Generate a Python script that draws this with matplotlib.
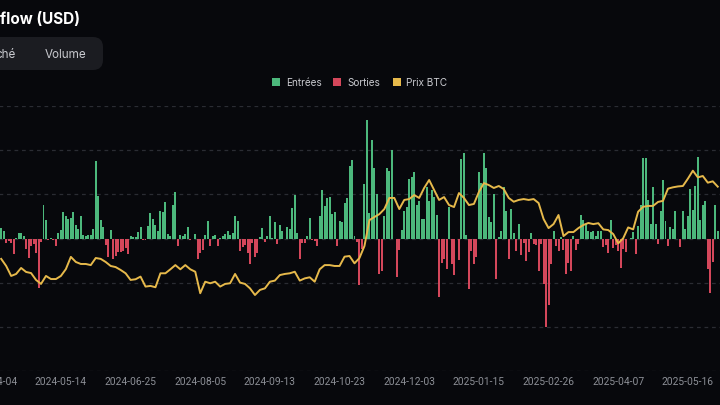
import numpy as np
import matplotlib.pyplot as plt
from matplotlib.patches import FancyBboxPatch, Rectangle
from matplotlib.transforms import IdentityTransform

# -------------------------------------------------------------------------
# data
# net flow per trading day (M USD), first bar = 2024-04-10
# -------------------------------------------------------------------------
flows = [
    24, 18, -10, -6, -11, -35, 1, 12, 12, 6, -24, -44, -18, -12, -33, -113,
    -8, 75, 43, -4, 2, -3, -18, 12, 20, 60, 50, 44, 47, 60, 30, 21, 50, 8, 5,
    9, 9, 21, 176, 97, 43, 26, -14, -41, 20, -47, -39, -31,
    -31, -28, -22, -36, 6, 3, 3, 14, 25, -3, -4, 28, 58, 44, 30, 17, 62, 60,
    84, 10, 6, 75, 106, -16, 9, 6, 10, 25, -4, 0, 10, -47, -32, -26, 9, 40,
    -18, 6, 8, -16, 2, 6, 11, 17, 9, 13, 50, 40,
    -28, -20, -15, -33, -58, -10, -42, -32, 4, 23, -8, 6, 52, 2, 37, -12, 30,
    18, 0, 27, 22, 70, 98, 12, -47, -11, -11, 5, 46, -4, -6, -16, 50, 110, 74,
    92, 94, 55, 60, -16, 40, 38, 80, 93, 164, 178, 5, -8, -105,
    -23, 124, 270, 57, 223, 160, 101, -80, -74, 50, 161, 154, 200, 0, -87,
    -26, 20, 63, 71, 135, 139, 150, 75, 86, 44, 44, 118, 86, 110, 95, 54,
    -134, -56, -46, -69, 72, -57, -84, 0, -48, 180, 195, 9, -114, -29, -57,
    -42, 150,
    125, 195, 160, 48, 37, 102, -92, 3, 18, 118, 63, -47, 67, 12, -29, 33, -38,
    -11, -51, -31, 13, -12, -14, -74, -12, -104, -202, -152, -57, 18, -16, -29,
    3, -27, -81, -56, -74, 5, -27, -12, 54, 41, 33, 18, 14, 18, 5, 18,
    17, -20, -14, -33, 43, -21, -14, -29, -66, -23, -31, 0, 2, 14, -35, 29, 75,
    182, 182, 87, 33, 118, 33, -12, 63, 133, 40, -18, 27, 22, 63, 0, -20, 63,
    22, 50, 112, 65, 120, 186, 41, 76, 86, -69, -124, -53, 75, 17,
]

# BTC price (k USD), every second trading day
btc_price = [
    70.4, 67.2, 62.7, 63.6, 66.3, 64.5, 64.0, 60.9, 59.1, 62.7, 61.3, 61.3,
    62.7, 65.8, 71.3, 69.0, 68.1, 68.1, 67.6, 70.8, 70.4, 69.0, 67.2, 66.7,
    65.4, 63.9, 60.9, 61.2, 62.4, 57.9, 58.2, 57.6, 63.9, 63.9, 65.7, 67.6,
    65.7, 67.6, 65.7, 64.6, 54.9, 60.1, 59.4, 60.1, 57.9, 59.1, 59.4, 63.6,
    59.7, 59.1, 57.1, 54.1, 56.4, 57.1, 60.1, 60.6, 63.1, 63.6, 63.9, 64.6,
    60.6, 61.6, 62.1, 60.1, 65.7, 67.6, 67.6, 67.2, 67.2, 71.4, 71.7, 68.4,
    70.8, 76.2, 87.9, 89.3, 90.6, 92.9, 97.9, 97.9, 92.9, 97.0, 97.4, 99.2,
    97.9, 102.4, 106.0, 101.5, 97.0, 98.3, 94.7, 93.8, 100.1, 97.9, 94.7, 95.2,
    100.6, 104.6, 103.7, 102.4, 103.3, 101.9, 97.9, 96.2, 97.0, 97.4, 97.0,
    97.4, 95.6, 88.4, 84.3, 86.1, 90.2, 80.7, 82.5, 82.5, 84.3, 85.7, 86.6,
    86.1,
    86.5, 83.7, 83.4, 81.6, 77.4, 79.7, 84.6, 83.7, 91.7, 93.9, 94.3, 94.3,
    96.1, 96.6, 102.1, 102.7, 103.1, 103.3, 106.6, 110.2, 107.2, 107.8, 104.8,
    105.4, 103.0,
]

tick_labels = ['2024-04-04', '2024-05-14', '2024-06-25', '2024-08-05',
               '2024-09-13', '2024-10-23', '2024-12-03', '2025-01-15',
               '2025-02-26', '2025-04-07', '2025-05-16']
first_tick = -4     # 2024-04-04 is four sessions before the first bar
tick_step = 28      # one label every 28 sessions

legend_labels = ['Entrées', 'Sorties', 'Prix BTC']

# -------------------------------------------------------------------------
# styling
# -------------------------------------------------------------------------
BG = '#07080c'
GREEN = '#4cb87c'
RED = '#d4475b'
YELLOW = '#e6b94b'
GRID = '#2a2c33'
TXT = '#c9cacf'
TICK = '#8c8f96'
FONT = ['Inter', 'DejaVu Sans']

W, H = 720, 405
fig = plt.figure(figsize=(7.2, 4.05), dpi=100, facecolor=BG)

# plot area in pixels (the screenshot is cropped left and right)
pitch, x0 = 2.488, 1.2
left_px, right_px = -40, 760
top_px, bot_px = 106, 371
ax = fig.add_axes([left_px / W, (H - bot_px) / H,
                   (right_px - left_px) / W, (bot_px - top_px) / H])
ax.set_facecolor(BG)
ax.set_xlim((left_px - x0) / pitch, (right_px - x0) / pitch)
ax.set_ylim(-301, 301)

f = np.array(flows, dtype=float)
idx = np.arange(len(f))
ax.bar(idx, np.where(f > 0, f, 0), width=0.8, color=GREEN, zorder=2)
ax.bar(idx, np.where(f < 0, f, 0), width=0.8, color=RED, zorder=2)

ax.set_yticks(range(-300, 301, 100))
ax.yaxis.grid(True, color=GRID, linestyle=(0, (3, 3)), linewidth=0.9)
ax.set_axisbelow(True)
ax.tick_params(axis='y', left=False, labelleft=False)

ticks = [first_tick + tick_step * k for k in range(len(tick_labels))]
ax.set_xticks(ticks)
ax.set_xticklabels(tick_labels, color=TICK, fontsize=7.4,
                   family=['Roboto', 'DejaVu Sans'])
ax.tick_params(axis='x', length=0, pad=4.5)
for s in ax.spines.values():
    s.set_visible(False)

# price on its own scale
ax2 = ax.twinx()
ax2.plot(np.arange(0, 2 * len(btc_price), 2), btc_price,
         color=YELLOW, lw=1.4, solid_joinstyle='round')
ax2.set_ylim(19.8, 139.4)
ax2.axis('off')

# -------------------------------------------------------------------------
# header: title, tab box, legend
# -------------------------------------------------------------------------
fig.text(0.5 / W, 1 - 23.5 / H, 'flow (USD)', color='white', fontsize=11,
         fontweight='bold', family=FONT, va='baseline')

box = FancyBboxPatch((-30, H - 70), 133, 33,
                     boxstyle='round,pad=0,rounding_size=10',
                     transform=IdentityTransform(), facecolor='#1b1c21',
                     edgecolor='none')
fig.add_artist(box)
fig.text(16 / W, 1 - 57.5 / H, 'ché', color=TXT, fontsize=8.4,
         family=FONT, ha='right', va='baseline')
fig.text(45 / W, 1 - 57.5 / H, 'Volume', color=TXT, fontsize=8.4,
         family=FONT, ha='left', va='baseline')

leg_x = [272, 333, 392.5]
for lx, lab, col in zip(leg_x, legend_labels, [GREEN, RED, YELLOW]):
    fig.add_artist(Rectangle((lx, H - 86), 8, 8, transform=IdentityTransform(),
                             facecolor=col, edgecolor='none'))
    fig.text((lx + 14) / W, 1 - 85.5 / H, lab, color=TXT, fontsize=7.2,
             family=FONT, va='baseline')

fig.savefig('out.png', dpi=100, facecolor=BG)
